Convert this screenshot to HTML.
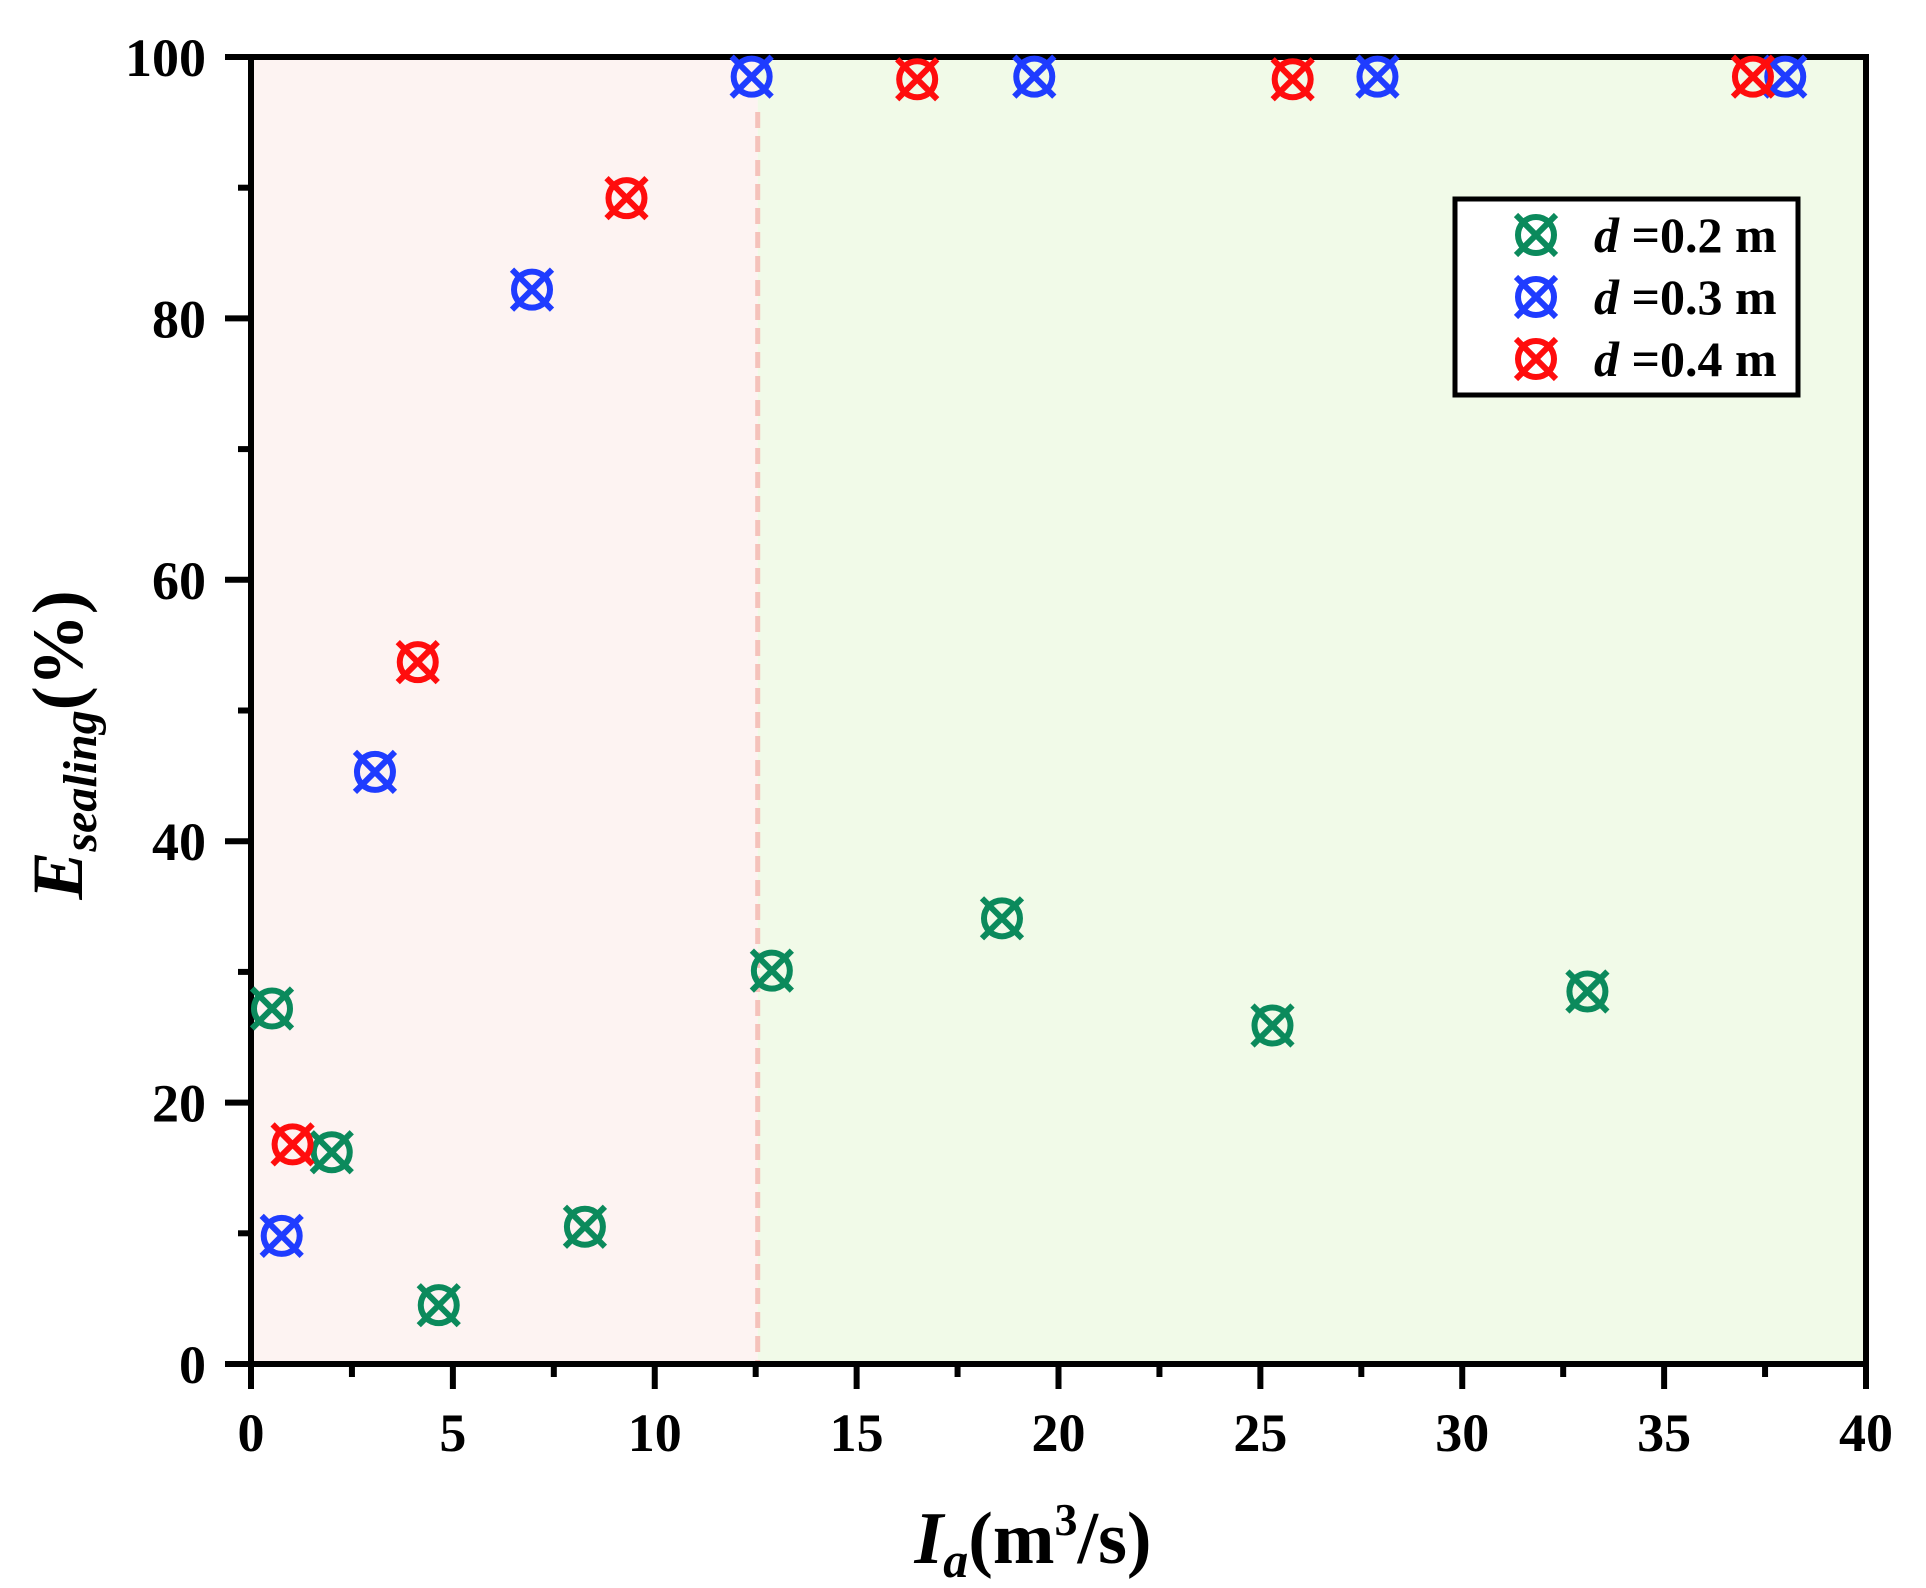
<!DOCTYPE html>
<html><head><meta charset="utf-8"><style>
html,body{margin:0;padding:0;background:#fff;}
svg{display:block;font-family:"Liberation Serif","Times New Roman",serif;}
</style></head><body>
<svg id="chart" width="1926" height="1588" viewBox="0 0 1926 1588" xmlns="http://www.w3.org/2000/svg">
<g id="bg"></g>
<g id="axes"></g>
<g id="marks"></g>
<g id="legend"></g>
</svg>
<script>
const xTicks = [0,5,10,15,20,25,30,35,40];
const yTicks = [0,20,40,60,80,100];
const threshold = 12.55;
const g02x = [0.52,2.0,4.65,8.27,12.9,18.6,25.3,33.1];
const g02y = [27.2,16.2,4.5,10.5,30.1,34.1,25.9,28.5];
const g03x = [0.76,3.07,6.96,12.4,19.4,27.9,38.0];
const g03y = [9.8,45.3,82.2,98.5,98.5,98.5,98.5];
const g04x = [1.03,4.13,9.3,16.5,25.8,37.2];
const g04y = [16.8,53.7,89.2,98.3,98.3,98.5];
const seriesNames = ["0.2","0.3","0.4"];

const NS="http://www.w3.org/2000/svg";
const L=251,R=1866,T=57,B=1364;
const sx=v=>L+(v-0)/(40-0)*(R-L);
const sy=v=>B-(v-0)/(100-0)*(B-T);
function mk(tag,attrs,parent){const e=document.createElementNS(NS,tag);for(const k in attrs)e.setAttribute(k,attrs[k]);parent.appendChild(e);return e;}
const bg=document.getElementById('bg'),ax=document.getElementById('axes'),mg=document.getElementById('marks'),lg=document.getElementById('legend');

let r1=mk('rect',{x:L,y:T,width:sx(threshold)-L,height:B-T,fill:'#fdf3f2'},bg);


let r2=mk('rect',{x:sx(threshold),y:T,width:R-sx(threshold),height:B-T,fill:'#f1fae8'},bg);


let dl=mk('line',{x1:sx(threshold),x2:sx(threshold),y1:T+55,y2:B,stroke:'#f5c2bb','stroke-width':5,'stroke-dasharray':'16,8'},bg);



let frame=mk('rect',{x:L,y:T,width:R-L,height:B-T,fill:'none',stroke:'#000','stroke-width':6},ax);



xTicks.forEach((v,i)=>{
  const x=sx(v);
  let t=mk('line',{x1:x,x2:x,y1:B,y2:B+25,stroke:'#000','stroke-width':6},ax);
  
  
  if(i<xTicks.length-1){
    const xm=sx(v+2.5);
    let m=mk('line',{x1:xm,x2:xm,y1:B,y2:B+13,stroke:'#000','stroke-width':6},ax);
    
    
  }
  let tx=mk('text',{x:x,y:1451,'text-anchor':'middle','font-size':54,'font-weight':'bold'},ax);
  tx.textContent=v;
  
  
});
yTicks.forEach((v,i)=>{
  const y=sy(v);
  let t=mk('line',{x1:L-26,x2:L,y1:y,y2:y,stroke:'#000','stroke-width':6},ax);
  
  
  if(i<yTicks.length-1){
    const ym=sy(v+10);
    let m=mk('line',{x1:L-13,x2:L,y1:ym,y2:ym,stroke:'#000','stroke-width':6},ax);
    
    
  }
  let tx=mk('text',{x:206,y:y+19,'text-anchor':'end','font-size':54,'font-weight':'bold'},ax);
  tx.textContent=v;
  
  
});

let xt=mk('text',{x:1033,y:1563,'text-anchor':'middle','font-size':74,'font-weight':'bold'},ax);
xt.innerHTML='<tspan font-style="italic">I</tspan><tspan font-style="italic" font-size="50" dy="14">a</tspan><tspan dy="-14">(m</tspan><tspan font-size="46" dy="-28">3</tspan><tspan dy="28">/s)</tspan>';



let yt=mk('text',{x:0,y:0,'text-anchor':'middle','font-size':72,'font-weight':'bold',transform:'translate(82,745) rotate(-90)'},ax);
yt.innerHTML='<tspan font-style="italic">E</tspan><tspan font-style="italic" font-size="48" dy="14">sealing</tspan><tspan dy="-14">(%)</tspan>';



function marker(parent,cx,cy,color){
  const gg=mk('g',{},parent);
  mk('circle',{cx:cx,cy:cy,r:18,fill:'none',stroke:color,'stroke-width':6},gg);
  const d=20;
  mk('line',{x1:cx-d,y1:cy-d,x2:cx+d,y2:cy+d,stroke:color,'stroke-width':6},gg);
  mk('line',{x1:cx-d,y1:cy+d,x2:cx+d,y2:cy-d,stroke:color,'stroke-width':6},gg);
  return gg;
}
const series=[[g02x,g02y,'#0b8a5c'],[g03x,g03y,'#1f3cff'],[g04x,g04y,'#ff0d0d']];
series.forEach((s,si)=>{
  s[0].forEach((xv,i)=>{
    const m=marker(mg,sx(xv),sy(s[1][i]),s[2]);
    
    
  });
});

let lb=mk('rect',{x:1455,y:199,width:343,height:196,fill:'#fff',stroke:'#000','stroke-width':5},lg);


series.forEach((s,si)=>{
  const y=235+si*62;
  const m=marker(lg,1536,y,s[2]);
  
  
  let t=mk('text',{x:1594,y:y+17,'font-size':50,'font-weight':'bold'},lg);
  t.innerHTML='<tspan font-style="italic">d</tspan> =0.'+(si+2)+' m';
  
  
});
</script>
</body></html>
